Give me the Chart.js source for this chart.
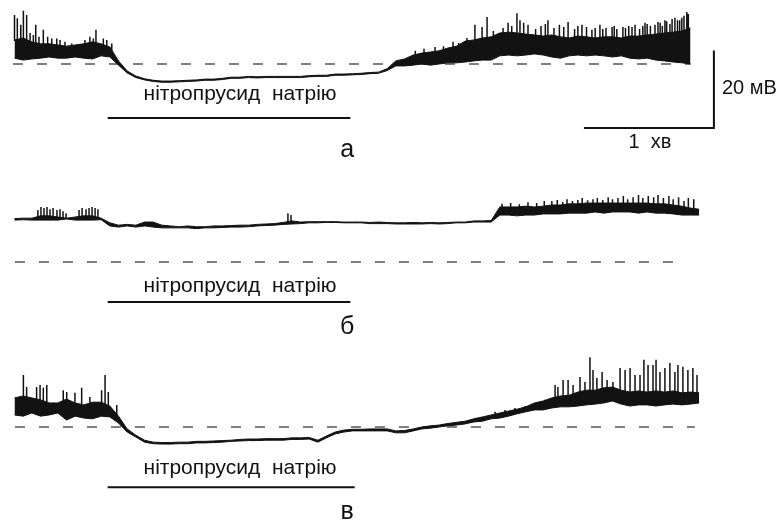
<!DOCTYPE html>
<html>
<head>
<meta charset="utf-8">
<script src="https://cdn.jsdelivr.net/npm/chart.js@4.4.0/dist/chart.umd.min.js"></script>
<style>
  html, body { margin: 0; padding: 0; background: #fff; }
</style>
</head>
<body>
<canvas id="trace" width="783" height="520"></canvas>
<script>
// time step between envelope samples, s
const STEP = 4;

// trace а: lower / upper edge of the recorded membrane potential, mV above the dashed level
const aLow = [1.5,1.0,1.3,1.5,1.8,1.5,1.5,1.8,1.5,1.3,2.1,1.8,
  -0.3,-2.3,-3.5,-4.1,-4.5,-4.7,-4.7,-4.6,-4.5,-4.4,-4.2,-4.2,-4.0,-3.7,-3.7,-3.5,-3.6,-3.5,-3.5,-3.5,-3.5,-3.5,-3.3,-3.2,-3.2,-2.9,-2.9,-2.8,-2.7,-2.5,-2.4,-1.7,
  -0.5,-0.5,-0.3,0,-0.3,0,0.3,0.3,0.5,0.8,1.0,1.0,2.1,2.3,2.1,2.3,2.6,2.3,1.8,1.5,2.1,2.3,2.1,2.3,2.1,1.8,2.1,1.5,1.3,1.5,1.0,0.8,0.5,0.3,0];
const aHigh = [6.2,6.7,5.7,5.2,5.2,4.9,4.6,4.9,5.2,5.7,5.2,4.4,
  0.8,-1.8,-3.1,-3.8,-4.2,-4.4,-4.4,-4.3,-4.2,-4.1,-3.9,-3.9,-3.7,-3.4,-3.4,-3.2,-3.3,-3.2,-3.2,-3.2,-3.2,-3.2,-3.0,-2.9,-2.9,-2.6,-2.6,-2.5,-2.4,-2.2,-2.1,-1.2,
  0.8,1.3,2.3,2.8,3.1,3.4,4.1,4.6,5.9,6.2,6.7,7.0,8.0,8.2,8.0,7.7,7.5,7.2,7.5,7.0,6.7,7.2,7.0,6.7,7.0,7.0,6.7,7.2,7.2,7.5,7.7,8.0,8.2,8.5,9.3];
// spikes: time (s) and peak (mV)
const aSpikeT = [0,1.3,2.9,4.1,5.6,7.2,8.7,9.8,11.3,13.3,15.3,17.2,19.5,21.0,23.3,26.4,28.7,32.5,34.8,36.4,37.6,41.0,42.6,44.9,
  185,189,194.1,198,202.4,205,208.8,212.5,215.8,218.1,221,225.5,227.8,229.5,231.9,233.3,235,237.0,240.5,243,245,246.2,249,251.5,253.5,
  255.5,258.5,260,261.9,264,266.5,268,270.2,271.5,273,275.8,276.8,278,280.8,282,283.5,285,286.4,288.5,290,291.0,292,293.5,295.6,
  297,298,299,300.2,301,302.5,303.5,304.8,306,307,308,309,310.3,311];
const aSpikeV = [12.6,11.8,10.1,13.7,12.6,8.0,7.5,10.1,7.0,8.8,7.0,6.6,6.6,6.2,5.7,5.3,4.9,6.2,7.0,6.6,8.8,6.6,6.2,5.3,
  3.4,3.9,4.4,4.6,5.7,5.4,6.7,10.1,9.5,12.1,8.5,9.3,10.6,9.8,13.1,11.3,10.6,10.1,9.0,9.8,10.3,11.3,9.3,10.1,9.5,
  10.8,9.0,9.8,10.1,9.5,8.8,9.3,10.1,9.0,9.3,9.5,9.8,9.0,9.5,9.3,9.8,9.5,10.1,9.0,9.8,10.6,10.3,9.8,10.1,
  10.8,10.6,9.8,11.3,11.0,10.3,11.6,11.9,11.3,11.3,11.9,12.4,13.4,12.9];

// trace б
const bLow = [10.8,10.9,10.8,10.8,10.8,10.8,11.1,10.8,10.8,10.8,10.9,
  9.3,9.0,9.3,9.0,9.3,9.0,8.8,8.8,8.8,8.8,8.6,8.8,8.8,8.9,9.0,9.0,9.1,9.3,9.4,9.5,9.7,9.8,9.9,10.1,10.1,10.2,10.2,10.1,10.1,10.1,
  9.9,9.9,9.9,9.8,9.8,9.8,9.8,9.9,9.8,9.9,10.1,10.1,10.3,10.3,10.3,
  12.1,12.1,11.9,12.1,12.1,12.4,12.4,12.4,12.6,12.6,12.6,12.9,12.6,12.9,12.9,12.9,12.6,12.9,12.6,12.6,12.4,12.1,12.1,12.1];
const bHigh = [11.2,11.3,11.3,11.9,11.9,11.6,11.3,11.6,11.9,11.9,11.3,
  10.1,9.5,9.7,9.5,10.3,10.3,9.5,9.3,9.1,9.3,9.1,9.1,9.3,9.3,9.4,9.5,9.5,9.7,9.8,9.9,10.2,10.6,10.3,10.4,10.4,10.4,10.4,10.3,10.3,10.3,
  10.2,10.3,10.2,10.1,10.1,10.2,10.1,10.2,10.1,10.2,10.3,10.3,10.6,10.6,10.7,
  14.2,14.2,14.2,14.4,14.2,14.4,14.7,14.7,15.0,15.0,15.2,15.2,15.2,15.2,15.2,15.2,15.2,15.2,15.0,15.0,14.7,14.4,13.9,13.6];
const bSpikeT = [10.8,12.2,13.6,15.0,16.4,17.8,19.6,21.0,22.4,23.8,29.8,31.2,33.0,34.4,35.8,37.2,38.5,126.2,127.6,
  225,229,233,237,241,244.5,
  248,250.5,253,255,257.5,260,262,264.5,267,269,271.5,274,276,278.5,281,283,285.5,288,290,292.5,295,297,299.5,302,304,306.5,309,311,313.5];
const bSpikeV = [13.4,14.2,13.9,14.2,13.6,13.9,13.4,13.6,13.1,12.6,13.4,13.9,13.6,13.9,14.2,13.9,13.6,12.6,12.1,
  15.0,15.2,14.9,15.4,15.2,15.7,
  15.7,16.0,15.5,16.2,15.7,16.0,16.5,15.9,16.2,16.5,16.0,16.7,16.2,16.5,17.0,16.2,16.7,17.3,16.5,17.0,16.7,17.3,16.5,17.0,16.2,16.7,15.7,16.5,16.2];

// trace в
const vLow = [3.1,2.8,3.6,2.8,3.1,3.6,1.8,2.8,2.3,2.1,2.8,2.6,
  1.0,-1.3,-2.6,-3.9,-4.3,-4.4,-4.4,-4.3,-4.3,-4.1,-4.1,-4.0,-3.9,-3.7,-3.6,-3.5,-3.5,-3.4,-3.4,-3.4,-3.2,-3.2,-3.1,-3.9,-2.8,-1.8,-1.3,-1.0,
  -1.0,-1.0,-1.0,-1.0,-1.5,-1.5,-1.0,-0.5,-0.3,0,0.3,0.5,0.8,1.3,1.5,2.1,
  2.3,2.8,3.4,3.9,4.4,4.4,4.9,5.2,5.2,5.4,5.7,5.9,6.2,6.7,5.9,5.4,5.7,5.7,5.4,5.7,5.9,5.7,5.9,6.2];
const vHigh = [7.5,8.0,7.5,7.0,6.2,6.2,7.2,6.2,5.7,6.4,6.4,5.4,
  2.8,-0.5,-2.1,-3.4,-3.9,-4.0,-4.0,-3.9,-3.9,-3.7,-3.7,-3.6,-3.5,-3.4,-3.2,-3.1,-3.1,-3.0,-3.0,-3.0,-2.8,-2.8,-2.7,-3.4,-2.3,-1.3,-0.8,-0.6,
  -0.6,-0.5,-0.5,-0.5,-1.0,-0.9,-0.5,0,0.3,0.5,0.9,1.2,1.5,2.1,2.6,3.1,
  3.6,4.1,4.6,5.2,6.2,6.7,7.5,8.0,8.2,9.0,9.5,9.5,10.1,10.3,9.5,9.0,9.3,9.0,9.3,9.0,9.3,8.8,9.0,8.8];
const vSpikeT = [4.1,5.6,10.2,11.8,13.3,14.9,22.5,24.1,27.9,31.0,34.8,40.2,41.8,43.3,47.2,
  221.8,226.4,231.0,235.6,240.2,244.8,249.5,250.8,253.2,255.5,257.8,261.0,263.3,265.6,267.0,268.8,
  271.2,273.5,276.2,279.5,281.8,284.1,286.4,288.7,290.5,292.4,294.7,296.1,297.9,300.2,302.5,304.8,306.2,308.5,310.8,313.1,315.0];
const vSpikeV = [13.4,10.3,10.3,10.8,10.1,10.8,9.5,9.0,8.8,10.1,7.7,9.5,13.4,9.0,5.7,
  3.9,4.4,4.9,5.4,5.9,7.0,10.8,10.3,12.1,12.1,10.8,12.9,11.6,18.0,14.7,12.6,
  14.2,12.1,11.6,15.2,14.7,15.2,13.4,13.4,17.3,16.0,16.0,17.3,14.2,15.2,16.5,14.2,16.0,15.5,14.7,15.2,13.4];

// drug application, s
const drugStart = 43;
const drugEnd = 155;
const drugLabel = 'нітропрусид  натрію';
const scaleSec = 60;
const scaleMv = 20;

// layout (chart units: s horizontally, mV vertically)
const PX_PER_S = 130 / 60;
const PX_PER_MV = 3.88;
const X_MIN = -14.5 / PX_PER_S;
const X_MAX = X_MIN + 783 / PX_PER_S;
const Y_MAX = 520 / PX_PER_MV;

const panels = [
  { letter: 'а', base: 117.53, low: aLow, high: aHigh, st: aSpikeT, sv: aSpikeV,
    dash: [-0.7, 312], bar: -13.9, label: -9.4, letterY: -24.0 },
  { letter: 'б', base: 66.49, low: bLow, high: bHigh, st: bSpikeT, sv: bSpikeV,
    dash: [0.2, 309.5], bar: -10.3, label: -7.7, letterY: -18.6 },
  { letter: 'в', base: 23.97, low: vLow, high: vHigh, st: vSpikeT, sv: vSpikeV,
    dash: [0.2, 314], bar: -15.5, label: -12.2, letterY: -23.7 }
];

const ink = '#121212';

function at(arr, t) {
  const i = Math.min(Math.floor(t / STEP), arr.length - 2);
  const f = t / STEP - i;
  return arr[i] * (1 - f) + arr[i + 1] * f;
}

const datasets = [];
panels.forEach(p => {
  datasets.push({
    data: p.high.map((v, i) => ({ x: i * STEP, y: p.base + v })),
    borderColor: ink, backgroundColor: ink, borderWidth: 1, fill: '+1', order: 2
  });
  datasets.push({
    data: p.low.map((v, i) => ({ x: i * STEP, y: p.base + v })),
    borderColor: ink, borderWidth: 1, fill: false, order: 2
  });
  const spikes = [];
  p.st.forEach((t, k) => {
    spikes.push({ x: t, y: p.base + at(p.high, t) - 0.3 });
    spikes.push({ x: t, y: p.base + p.sv[k] });
    spikes.push({ x: t, y: null });
  });
  datasets.push({ data: spikes, borderColor: '#111', borderWidth: 1.5, fill: false, spanGaps: false, order: 1 });
  datasets.push({
    data: [{ x: p.dash[0], y: p.base }, { x: p.dash[1], y: p.base }],
    borderColor: '#555', borderWidth: 1.3, borderDash: [10, 14], fill: false, order: 3
  });
  const barEnd = p.letter === 'в' ? drugEnd + 2 : drugEnd;
  datasets.push({
    data: [{ x: drugStart, y: p.base + p.bar }, { x: barEnd, y: p.base + p.bar }],
    borderColor: '#111', borderWidth: 2, fill: false, order: 3
  });
});

// scale bar next to trace а
const sbX = 322.8, sbY = panels[0].base - 16.5;
datasets.push({
  data: [{ x: sbX - scaleSec, y: sbY }, { x: sbX, y: sbY }, { x: sbX, y: sbY + scaleMv }],
  borderColor: '#111', borderWidth: 2, fill: false, order: 3
});

const textPlugin = {
  id: 'texts',
  afterDraw(chart) {
    const { ctx, scales: { x, y } } = chart;
    ctx.save();
    ctx.fillStyle = '#111';
    ctx.textAlign = 'center';
    ctx.textBaseline = 'alphabetic';
    panels.forEach(p => {
      ctx.font = '21px "Liberation Sans", Arial, sans-serif';
      ctx.fillText(drugLabel, x.getPixelForValue(104.1), y.getPixelForValue(p.base + p.label));
      ctx.font = '25px "Liberation Sans", Arial, sans-serif';
      ctx.fillText(p.letter, x.getPixelForValue(153.5), y.getPixelForValue(p.base + p.letterY));
    });
    ctx.font = '20px "Liberation Sans", Arial, sans-serif';
    ctx.fillText('1  хв', x.getPixelForValue(sbX - scaleSec / 2 + 0.5), y.getPixelForValue(panels[0].base - 21.7));
    ctx.textAlign = 'left';
    ctx.fillText(scaleMv + ' мВ', x.getPixelForValue(326.5), y.getPixelForValue(panels[0].base - 7.7));
    ctx.restore();
  }
};

new Chart(document.getElementById('trace'), {
  type: 'line',
  data: { datasets },
  options: {
    responsive: false,
    animation: false,
    layout: { padding: 0 },
    elements: { point: { radius: 0 }, line: { tension: 0 } },
    scales: {
      x: { type: 'linear', min: X_MIN, max: X_MAX, display: false },
      y: { type: 'linear', min: 0, max: Y_MAX, display: false }
    },
    plugins: { legend: { display: false }, tooltip: { enabled: false } }
  },
  plugins: [textPlugin]
});
</script>
</body>
</html>
